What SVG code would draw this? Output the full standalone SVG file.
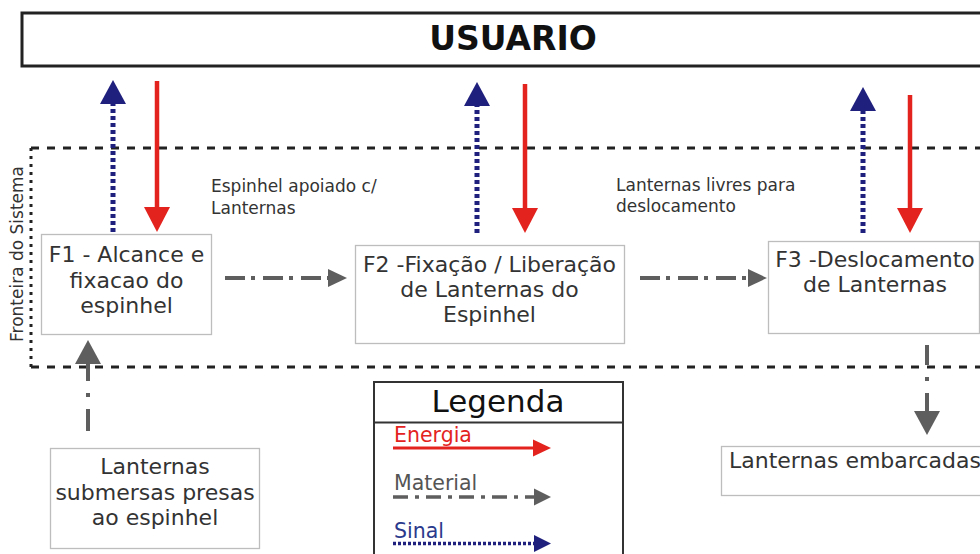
<svg xmlns="http://www.w3.org/2000/svg" width="980" height="554" viewBox="0 0 980 554">
<style>
  .box{fill:#fff;stroke:#bdbdbd;stroke-width:1.3}
  .t{font-family:"DejaVu Sans",Verdana,sans-serif;font-size:22px;fill:#333;text-anchor:middle}
  .ts{font-family:"DejaVu Sans",Verdana,sans-serif;font-size:22px;fill:#333;text-anchor:start}
  .lbl{font-family:"DejaVu Sans",Verdana,sans-serif;font-size:17px;fill:#333}
  .leg{font-family:"DejaVu Sans",Verdana,sans-serif;font-size:20.5px}
  .red{stroke:#e3231e;stroke-width:4.5;fill:none}
  .redh{fill:#e3231e}
  .blue{stroke:#1f1f7e;stroke-width:5;stroke-dasharray:4 3;fill:none}
  .blueh{fill:#1f1f7e}
  .mat{stroke:#5e5e5e;stroke-width:4;fill:none}
  .math{fill:#5e5e5e}
  .bnd{stroke:#222;stroke-width:3;fill:none}
</style>
<rect width="980" height="554" fill="#fff"/>

<g id="boundary">
  <path class="bnd" d="M31 148 H985" stroke-dasharray="8 8"/>
  <path class="bnd" d="M31 367 H985" stroke-dasharray="8 8"/>
  <path class="bnd" d="M31 148 V367" stroke-width="3.5" stroke-dasharray="3 5"/>
  <text class="lbl" font-size="16.5" fill="#444" transform="translate(23 254) rotate(-90)" text-anchor="middle">Fronteira do Sistema</text>
</g>

<g id="usuario">
  <rect x="22" y="13" width="970" height="53" fill="#fff" stroke="#222" stroke-width="3"/>
  <text x="513" y="50" font-family="'DejaVu Sans',Verdana,sans-serif" font-weight="bold" font-size="33" fill="#111" text-anchor="middle">USUARIO</text>
</g>

<g id="f1">
  <rect class="box" x="41.5" y="234.5" width="170" height="100"/>
  <text class="t" x="126.5" y="262">F1 - Alcance e</text>
  <text class="t" x="126.5" y="288">fixacao do</text>
  <text class="t" x="126.5" y="313">espinhel</text>
</g>

<g id="f2">
  <rect class="box" x="355.5" y="245.5" width="269" height="98"/>
  <text class="t" x="489.5" y="272">F2 -Fixação / Liberação</text>
  <text class="t" x="489.5" y="297">de Lanternas do</text>
  <text class="t" x="489.5" y="322">Espinhel</text>
</g>

<g id="f3">
  <rect class="box" x="768.5" y="241.5" width="211" height="92"/>
  <text class="t" x="875" y="267">F3 -Deslocamento</text>
  <text class="t" x="875" y="292">de Lanternas</text>
</g>

<g id="submersas">
  <rect class="box" x="50.5" y="448.5" width="209" height="100"/>
  <text class="t" x="155" y="474">Lanternas</text>
  <text class="t" x="155" y="500">submersas presas</text>
  <text class="t" x="155" y="525">ao espinhel</text>
</g>

<g id="embarcadas">
  <rect class="box" x="721.5" y="446.5" width="270" height="49"/>
  <text class="ts" x="729" y="468">Lanternas embarcadas</text>
</g>

<g id="labels">
  <text class="lbl" x="211" y="192">Espinhel apoiado c/</text>
  <text class="lbl" x="211" y="214">Lanternas</text>
  <text class="lbl" x="616" y="191">Lanternas livres para</text>
  <text class="lbl" x="616" y="212">deslocamento</text>
</g>

<g id="connectors">
  <path class="blue" d="M113 232 V102"/>
  <polygon class="blueh" points="113,80 100,104 126,104"/>
  <path class="red" d="M157 81 V209"/>
  <polygon class="redh" points="144,207 170,207 157,232"/>
  <path class="blue" d="M477 233 V104"/>
  <polygon class="blueh" points="477,82 464,106 490,106"/>
  <path class="red" d="M525 84 V210"/>
  <polygon class="redh" points="512,208 538,208 525,233"/>
  <path class="blue" d="M863 233 V110"/>
  <polygon class="blueh" points="863,87 850,111 876,111"/>
  <path class="red" d="M910 95 V210"/>
  <polygon class="redh" points="897,208 923,208 910,233"/>
  <path class="mat" d="M225 278 H330" stroke-dasharray="20 6 4 8"/>
  <polygon class="math" points="328,269 328,287 347,278"/>
  <path class="mat" d="M640 278 H750" stroke-dasharray="20 6 4 8"/>
  <polygon class="math" points="748,269 748,287 767,278"/>
  <path class="mat" d="M88 363 V433" stroke-dasharray="18 12 4 12 22"/>
  <polygon class="math" points="88,340 75,364 101,364"/>
  <path class="mat" d="M927 345 V414" stroke-dasharray="20 12 4 12 40"/>
  <polygon class="math" points="914,411 940,411 927,435"/>
</g>

<g id="legenda">
  <rect x="374" y="382" width="249" height="190" fill="#fff" stroke="#333" stroke-width="2"/>
  <line x1="374" y1="422.5" x2="623" y2="422.5" stroke="#333" stroke-width="2"/>
  <text x="498" y="412" font-family="'DejaVu Sans',Verdana,sans-serif" font-size="31" fill="#111" text-anchor="middle">Legenda</text>
  <text class="leg" x="394" y="442" fill="#e3231e">Energia</text>
  <path d="M393 448 H536" stroke="#e3231e" stroke-width="3" fill="none"/>
  <polygon class="redh" points="533,439.5 533,456.5 551,448"/>
  <text class="leg" x="394" y="490" fill="#555">Material</text>
  <path d="M393 497 H535" stroke="#5e5e5e" stroke-width="3.5" fill="none" stroke-dasharray="15 7 4 7"/>
  <polygon class="math" points="534,488.5 534,505.5 551,497"/>
  <text class="leg" x="394" y="538" fill="#2b3a8c">Sinal</text>
  <path d="M393 543.5 H536" stroke="#1f1f7e" stroke-width="3.5" fill="none" stroke-dasharray="3 2"/>
  <polygon class="blueh" points="534,535 534,552 551,543.5"/>
</g>
</svg>
